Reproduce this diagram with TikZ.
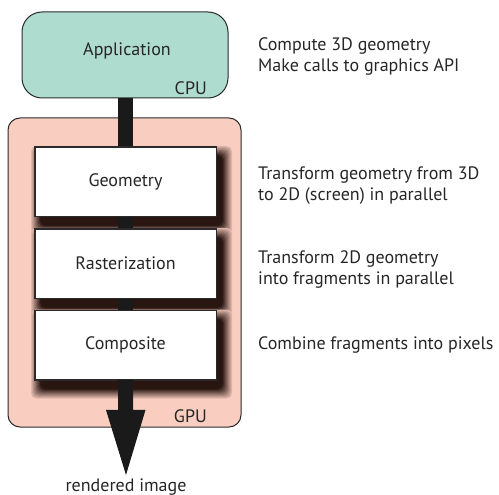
\documentclass[tikz,border=0pt]{standalone}
\usepackage{fontspec}
\setmainfont{PT Sans}
\definecolor{appteal}{HTML}{AEDCCF}
\definecolor{gpusalmon}{HTML}{F9CEC0}
\definecolor{edgegray}{HTML}{2A2A2A}
\definecolor{barblack}{HTML}{1A1A1A}
\definecolor{shadowbrown}{HTML}{1E0C08}
\begin{document}
\begin{tikzpicture}[x=1pt,y=-1pt,
  lbl/.style={font=\fontsize{18}{21}\selectfont, text=black!85},
  side/.style={lbl, anchor=west, align=left, inner sep=0pt},
  stage/.style={draw=edgegray, line width=0.9pt, fill=white, minimum width=181pt, minimum height=69pt, inner sep=0pt, lbl},
  unit/.style={draw=edgegray, line width=1pt, inner sep=0pt}]
\useasboundingbox (0,0) rectangle (499,495);
% GPU container
\node[unit, fill=gpusalmon, rounded corners=12pt, minimum width=233pt, minimum height=309pt] (gpu) at (124.5,272.5) {};
% CPU application box
\node[unit, fill=appteal, rounded corners=20pt, minimum width=206pt, minimum height=86pt] (app) at (125,55) {};
\node[lbl, anchor=east, inner sep=0pt] (gpulbl) at (207,416) {GPU};
\node[lbl, inner sep=0pt] (applbl) at (127,51) {Application};
\node[lbl, anchor=east, inner sep=0pt] (cpulbl) at (207,88) {CPU};
% soft drop shadows of the stage boxes
\foreach \cy in {181.5,263.5,345}{
  \foreach \k in {0,...,15}{
    \pgfmathsetmacro\m{10-\k}
    \pgfmathtruncatemacro\p{min(95,12+\k*9)}
    \fill[shadowbrown!\p!gpusalmon, rounded corners=5pt]
      (125.5-90.5+6-\m, \cy-34.5+9-\m) rectangle (125.5+90.5+6+\m, \cy+34.5+9+\m);
  }
}
% stages
\node[stage] (geo) at (125.5,181.5) {Geometry};
\node[stage] (ras) at (125.5,263.5) {Rasterization};
\node[stage] (comp) at (125.5,345) {Composite};
% bars
\fill[barblack] ([xshift=-7.5pt]app.south) rectangle ([xshift=7.5pt]geo.north);
\fill[barblack] ([xshift=-7.5pt]geo.south) rectangle ([xshift=7.5pt]ras.north);
\fill[barblack] ([xshift=-7.5pt]ras.south) rectangle ([xshift=7.5pt]comp.north);
% redraw stage borders over bars
\draw[edgegray, line width=0.9pt] (geo.south west) rectangle (geo.north east);
\draw[edgegray, line width=0.9pt] (ras.south west) rectangle (ras.north east);
\draw[edgegray, line width=0.9pt] (comp.south west) rectangle (comp.north east);
% output arrow
\coordinate (tip) at (126,475);
\fill[barblack] ([xshift=-7.5pt]comp.south) -- ++(0,30) -- ++(-12,0) -- (tip) -- ([xshift=20pt,yshift=-30pt]comp.south) -- ++(-12.5,0) -- ([xshift=7.5pt]comp.south) -- cycle;
\node[lbl, inner sep=0pt] (out) at (126,487) {rendered image};
% descriptions
\node[side] (d1) at (258,57) {Compute 3D geometry\\Make calls to graphics API};
\node[side] (d2) at (258,185.5) {Transform geometry from 3D\\to 2D (screen) in parallel};
\node[side] (d3) at (258,269.5) {Transform 2D geometry\\into fragments in parallel};
\node[side] (d4) at (258,345) {Combine fragments into pixels};
\end{tikzpicture}
\end{document}
